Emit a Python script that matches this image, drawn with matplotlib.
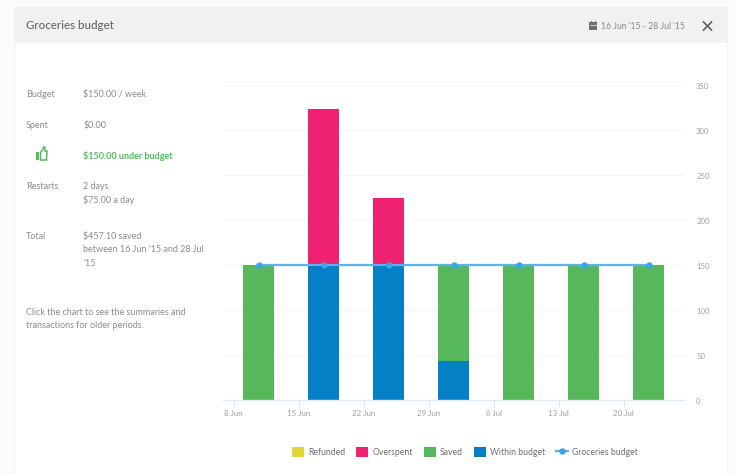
import matplotlib
matplotlib.use("Agg")
import matplotlib.pyplot as plt
from matplotlib.patches import Rectangle, Polygon
from matplotlib.lines import Line2D
from matplotlib.transforms import ScaledTranslation

plt.rcParams['font.family'] = ['Lato', 'DejaVu Sans']

# ---- data ----
week_offsets = [2.7, 9.7, 16.7, 23.7, 30.7, 37.7, 44.7]
tick_days = [0, 7, 14, 21, 28, 35, 42]
tick_labels = ['8 Jun', '15 Jun', '22 Jun', '29 Jun', '6 Jul', '13 Jul', '20 Jul']
within_budget = [0, 150, 150, 43, 0, 0, 0]
saved = [150, 0, 0, 107, 150, 150, 150]
overspent = [0, 173, 75, 0, 0, 0, 0]
refunded = [0, 0, 0, 0, 0, 0, 0]
budget_line = [150, 150, 150, 150, 150, 150, 150]
y_ticks = [0, 50, 100, 150, 200, 250, 300, 350]

W, H = 735, 474
fig = plt.figure(figsize=(W / 100, H / 100), dpi=100, facecolor='#fbfbfb')

# page chrome in pixel coordinates
bg = fig.add_axes([0, 0, 1, 1])
bg.set_xlim(0, W); bg.set_ylim(H, 0); bg.axis('off')
bg.add_patch(Rectangle((14, 7), 713, 470, fc='white', ec='#f0f0f0', lw=0.8))
bg.add_patch(Rectangle((14, 7), 713, 36, fc='#f1f1f1', ec='none'))

GREY = '#8c8c8c'
def t(x, y, s, color=GREY, size=6.5, **kw):
    bg.text(x, y, s, color=color, fontsize=size, va='center', ha='left', **kw)

t(26, 25.5, 'Groceries budget', color='#666666', size=8.3, fontweight='medium')
t(601, 26.5, "16 Jun '15 - 28 Jul '15", color='#8a8a8a', size=6.2)
# calendar icon
bg.add_patch(Rectangle((589.5, 22), 8, 7.5, fc='#707070', ec='none'))
bg.add_line(Line2D([590, 597], [24.5, 24.5], color='#f1f1f1', lw=0.5))
bg.add_line(Line2D([591.5, 591.5], [21, 22.5], color='#707070', lw=0.8))
bg.add_line(Line2D([595.5, 595.5], [21, 22.5], color='#707070', lw=0.8))
# close icon
bg.add_line(Line2D([703.5, 711.5], [22, 30], color='#5f5f5f', lw=1.2))
bg.add_line(Line2D([711.5, 703.5], [22, 30], color='#5f5f5f', lw=1.2))

t(26, 94, 'Budget'); t(83.5, 94, '$150.00 / week')
t(26, 125, 'Spent'); t(83.5, 125, '$0.00')
t(83.5, 156, '$150.00 under budget', color='#55bb5b', fontweight='bold')
t(26, 186.5, 'Restarts'); t(83.5, 186.5, '2 days'); t(83.5, 200, '$75.00 a day')
t(26, 236, 'Total'); t(83.5, 236, '$457.10 saved')
t(83.5, 249.5, "between 16 Jun '15 and 28 Jul"); t(83.5, 263, "'15")
t(26, 312.5, 'Click the chart to see the summaries and')
t(26, 326, 'transactions for older periods.')
# thumbs-up icon
bg.add_patch(Rectangle((36.5, 152), 3, 8, fc='#55bb5b', ec='none'))
bg.add_patch(Polygon([(40.5, 152.5), (43, 149), (43.5, 147), (45, 147.5), (45, 151),
                      (47, 151), (46.5, 160), (40.5, 160)], fc='none', ec='#55bb5b', lw=1.1))

# chart
L, R, T, B = 223, 685, 85, 400
ax = fig.add_axes([L / W, 1 - B / H, (R - L) / W, (B - T) / H])
ax.patch.set_alpha(0)
ax.set_ylim(0, 350)
ax.set_xlim(-10.5 * 7 / 65, (R - 233.5) * 7 / 65)
bw = 3.3
c_ref, c_over, c_sav, c_with = '#e0d53c', '#ee2270', '#57b85b', '#0480c6'
ax.bar(week_offsets, within_budget, bw, color=c_with, label='Within budget', zorder=2)
ax.bar(week_offsets, saved, bw, bottom=within_budget, color=c_sav, label='Saved', zorder=2)
base = [a + b for a, b in zip(within_budget, saved)]
ax.bar(week_offsets, overspent, bw, bottom=base, color=c_over, label='Overspent', zorder=2)
base2 = [a + b for a, b in zip(base, overspent)]
ax.bar(week_offsets, refunded, bw, bottom=base2, color=c_ref, label='Refunded', zorder=2)
ln, = ax.plot(week_offsets, budget_line, color='#5fb0ee', lw=1.6, marker='o', ms=3.6,
              mfc='#3fa2ea', mec='#3fa2ea', label='Groceries budget', zorder=3)

ax.set_yticks(y_ticks)
ax.yaxis.tick_right()
ax.set_xticks(tick_days)
ax.set_xticklabels(tick_labels)
ax.grid(axis='y', color='#f5f5f5', lw=0.8, zorder=0)
ax.tick_params(axis='y', length=0, pad=8, labelsize=5.6, labelcolor='#a0a0a0')
ax.tick_params(axis='x', length=5, width=0.7, color='#dfe6ee', pad=2, labelsize=5.7, labelcolor='#a0a0a0')
shift = ScaledTranslation(0, -1 / 100, fig.dpi_scale_trans)
for lab in ax.get_yticklabels():
    lab.set_transform(lab.get_transform() + shift)
for s in ['top', 'left', 'right']:
    ax.spines[s].set_visible(False)
ax.spines['bottom'].set_color('#e2eaf2')
ax.spines['bottom'].set_linewidth(1)

handles = [Rectangle((0, 0), 1, 1, fc=c_ref), Rectangle((0, 0), 1, 1, fc=c_over),
           Rectangle((0, 0), 1, 1, fc=c_sav), Rectangle((0, 0), 1, 1, fc=c_with), ln]
labels = ['Refunded', 'Overspent', 'Saved', 'Within budget', 'Groceries budget']
fig.legend(handles, labels, ncol=5, frameon=False, loc='center',
           bbox_to_anchor=(465 / W, 1 - 452 / H), fontsize=6.2, labelcolor='#6e6e6e',
           handlelength=1.4, handleheight=1.35, handletextpad=0.46, columnspacing=1.28)

fig.savefig('out.png', dpi=100, facecolor=fig.get_facecolor())
